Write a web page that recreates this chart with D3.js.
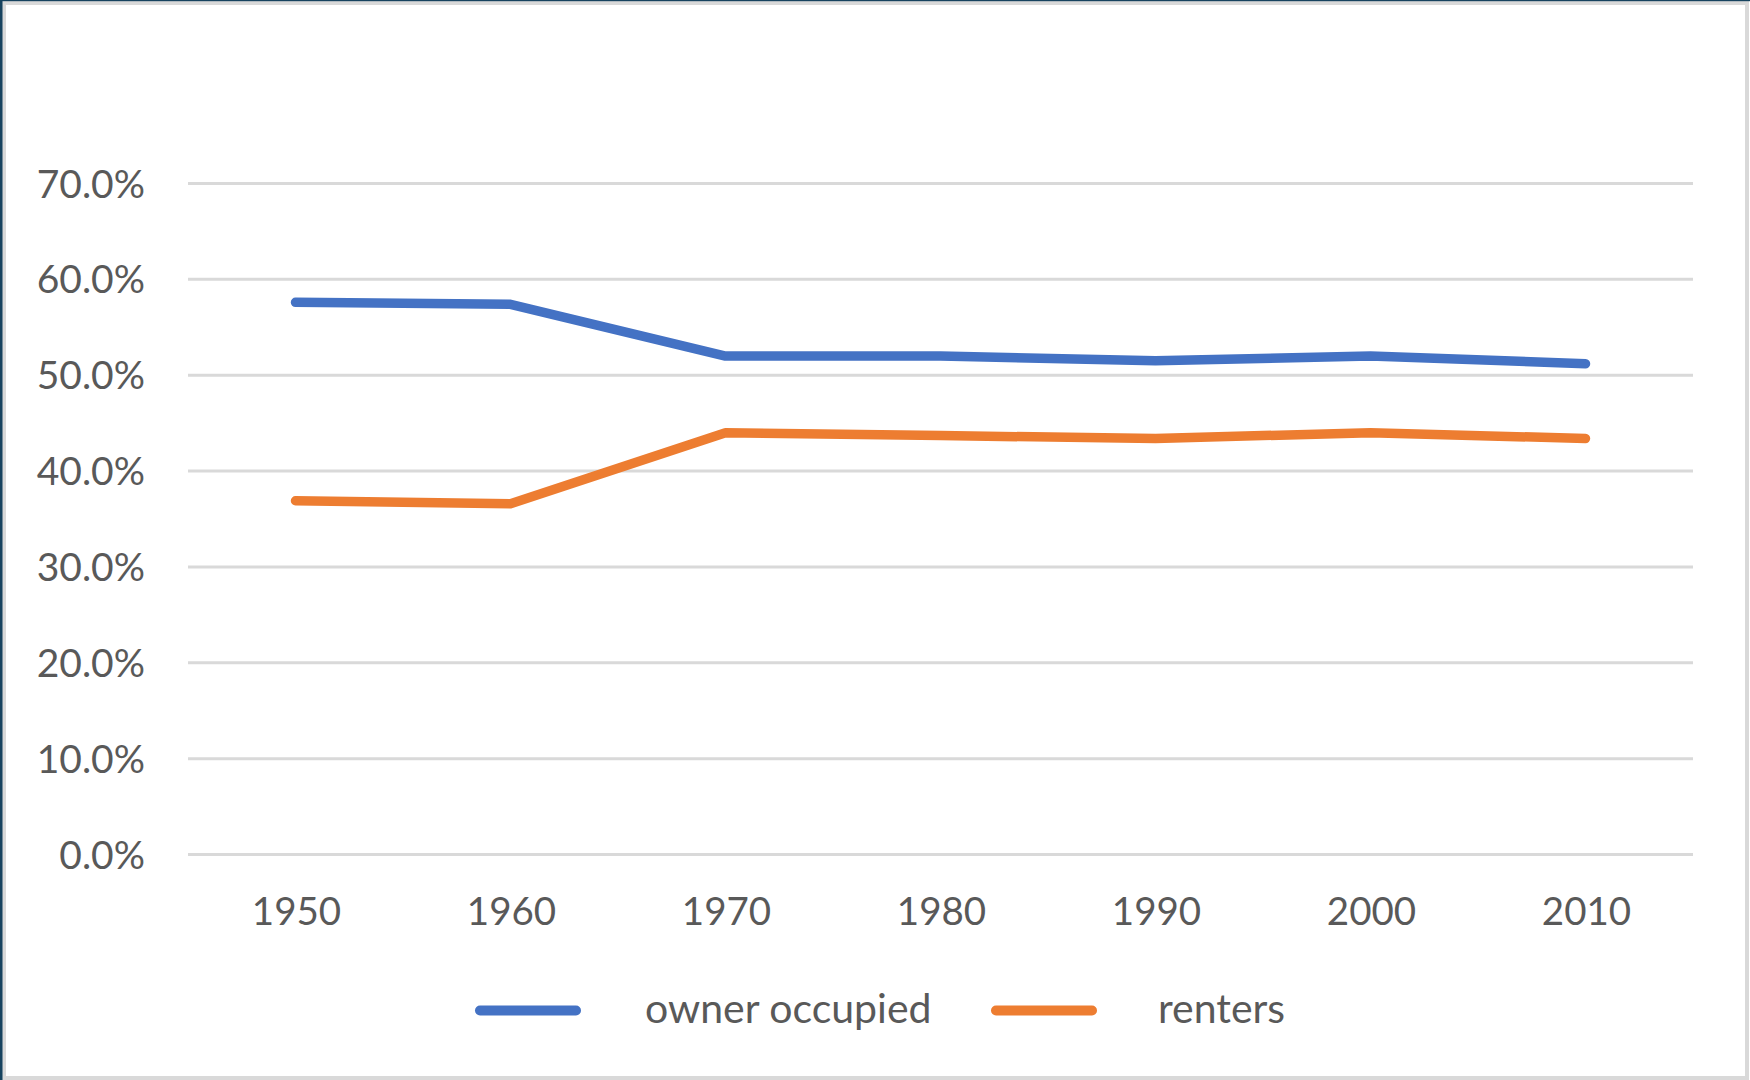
<!DOCTYPE html>
<html>
<head>
<meta charset="utf-8">
<script src="https://cdn.jsdelivr.net/npm/d3@7"></script>
<style>
  html, body { margin: 0; padding: 0; background: #ffffff; }
  svg { display: block; }
  text { font-family: Lato, "Open Sans", sans-serif; fill: #595959; }
</style>
</head>
<body>
<svg id="chart" width="1750" height="1080"></svg>
<script>
const years = ["1950", "1960", "1970", "1980", "1990", "2000", "2010"];
const ownerOccupied = [0.576, 0.574, 0.520, 0.520, 0.515, 0.520, 0.512];
const renters = [0.369, 0.366, 0.440, 0.437, 0.434, 0.440, 0.434];
const yTicks = [0, 0.1, 0.2, 0.3, 0.4, 0.5, 0.6, 0.7];
const seriesNames = ["owner occupied", "renters"];
const seriesColors = ["#4472C4", "#ED7D31"];

(function () {
const svg = d3.select("#chart");
const W = 1750, H = 1080;

// frame
svg.append("rect").attr("x", 0).attr("y", 0).attr("width", W).attr("height", H).attr("fill", "#ffffff");
svg.append("rect").attr("x", 4).attr("y", 3).attr("width", W - 7).attr("height", H - 5)
  .attr("fill", "none").attr("stroke", "#d9d9d9").attr("stroke-width", 4);
svg.append("rect").attr("x", 0).attr("y", 0).attr("width", 2.5).attr("height", H).attr("fill", "#17435f");
svg.append("rect").attr("x", 0).attr("y", 0).attr("width", W).attr("height", 1.2).attr("fill", "#17435f");

const pLeft = 188, pRight = 1693, pTop = 183.5, pBottom = 854.5;

const x = d3.scalePoint().domain(years).range([pLeft, pRight]).padding(0.5);
const y = d3.scaleLinear().domain([0, 0.7]).range([pBottom, pTop]);

// gridlines
svg.append("g").selectAll("line").data(yTicks).join("line")
  .attr("x1", pLeft).attr("x2", pRight)
  .attr("y1", d => y(d)).attr("y2", d => y(d))
  .attr("stroke", "#d9d9d9").attr("stroke-width", 3);

// y labels
const fmt = d3.format(".1%");
svg.append("g").selectAll("text").data(yTicks).join("text")
  .attr("x", 145).attr("y", d => y(d)).attr("dy", "0.36em")
  .attr("text-anchor", "end").attr("font-size", 39)
  .text(d => fmt(d));

// x labels
svg.append("g").selectAll("text").data(years).join("text")
  .attr("x", d => x(d) + 1).attr("y", 925)
  .attr("text-anchor", "middle").attr("font-size", 38.5)
  .text(d => d);

// lines
const line = d3.line().x((d, i) => x(years[i])).y(d => y(d));
[ownerOccupied, renters].forEach((vals, i) => {
  svg.append("path").datum(vals)
    .attr("d", line)
    .attr("fill", "none")
    .attr("stroke", seriesColors[i])
    .attr("stroke-width", 9.5)
    .attr("stroke-linecap", "round")
    .attr("stroke-linejoin", "round");
});

// legend
const legendItems = [
  { name: seriesNames[0], color: seriesColors[0], x0: 480, tx: 645 },
  { name: seriesNames[1], color: seriesColors[1], x0: 996, tx: 1158 }
];
const lg = svg.append("g");
legendItems.forEach(it => {
  lg.append("line").attr("x1", it.x0).attr("x2", it.x0 + 96)
    .attr("y1", 1010.5).attr("y2", 1010.5)
    .attr("stroke", it.color).attr("stroke-width", 10).attr("stroke-linecap", "round");
  lg.append("text").attr("x", it.tx).attr("y", 1023).attr("font-size", 41).text(it.name);
});
})();
</script>
</body>
</html>
